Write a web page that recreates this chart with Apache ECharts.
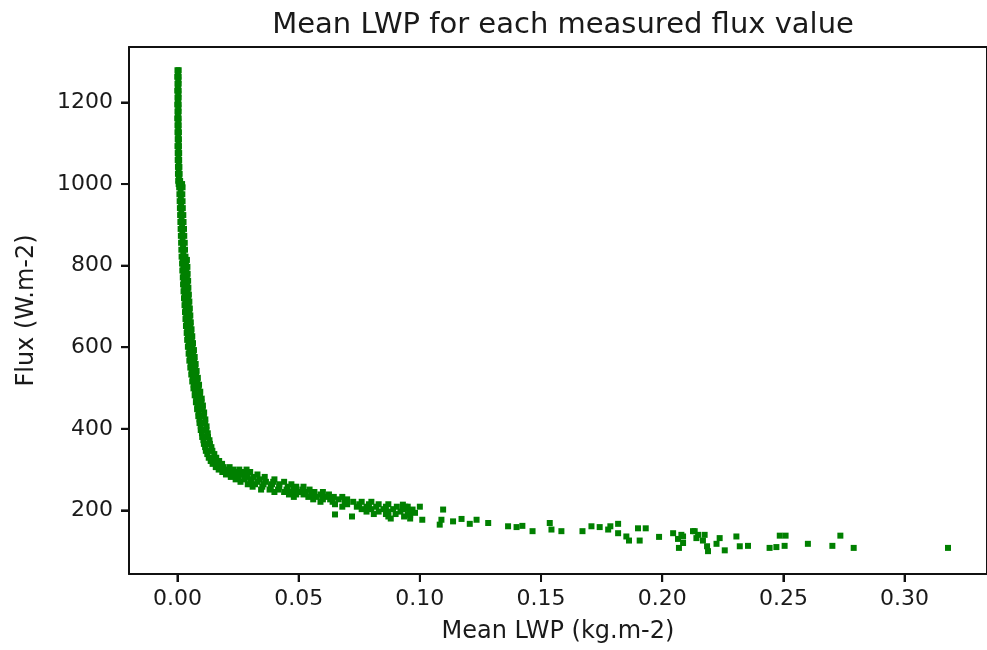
<!DOCTYPE html>
<html>
<head>
<meta charset="utf-8">
<script src="https://cdn.jsdelivr.net/npm/echarts@6/dist/echarts.min.js"></script>
<style>
html,body{margin:0;padding:0;background:#fff;}
#chart{width:987px;height:650px;}
</style>
</head>
<body>
<div id="chart"></div>
<script>
const chartTitle = 'Mean LWP for each measured flux value';
const xAxisName = 'Mean LWP (kg.m-2)';
const yAxisName = 'Flux (W.m-2)';
const xTicks = [0.00, 0.05, 0.10, 0.15, 0.20, 0.25, 0.30];
const yTicks = [200, 400, 600, 800, 1000, 1200];

// steep part: [flux, lwp, lwp, ...]
const steepRows = [
  [1279,0.0000,0.0005],[1271,0.0002],[1263,-0.0001,0.0005],[1255,0.0003],
  [1246,0.0000,0.0005],[1238,0.0002],[1229,-0.0001,0.0005],[1221,0.0003],
  [1212,0.0000,0.0005],[1204,0.0002],[1195,-0.0001,0.0005],[1187,0.0003],
  [1178,0.0000,0.0005],[1170,0.0002],[1161,-0.0001,0.0005],[1153,0.0003],
  [1144,0.0000,0.0005],[1136,0.0003],[1127,0.0000,0.0006],[1119,0.0003],
  [1110,0.0001,0.0006],[1102,0.0004],[1093,0.0000,0.0006],[1085,0.0004],
  [1076,0.0001,0.0007],[1068,0.0004],[1059,0.0001,0.0007],[1051,0.0005],
  [1042,0.0002,0.0008],[1034,0.0005],[1025,0.0002,0.0009],[1017,0.0006],
  [1008,0.0003,0.0011],[1000,0.0005,0.0019],[992,0.0007,0.0021],[984,0.0013],
  [975,0.0008,0.0020],[967,0.0014],[958,0.0009,0.0021],[950,0.0015],
  [941,0.0010,0.0022],[933,0.0016],[924,0.0011,0.0024],[916,0.0017],
  [907,0.0012,0.0025],[899,0.0019],[890,0.0013,0.0027],[882,0.0020],
  [873,0.0014,0.0028],[865,0.0021],[856,0.0015,0.0030],[848,0.0023],
  [839,0.0016,0.0031],[831,0.0024],[822,0.0017,0.0033,0.0025],[814,0.0022,0.0039],
  [805,0.0019,0.0035,0.0027],[797,0.0024,0.0041],[788,0.0020,0.0037,0.0029],[780,0.0025,0.0042],
  [771,0.0022,0.0039,0.0031],[763,0.0027,0.0044],[754,0.0023,0.0040,0.0032],[746,0.0028,0.0045],
  [737,0.0025,0.0042,0.0034],[729,0.0030,0.0047],[720,0.0027,0.0044,0.0036],[712,0.0032,0.0049],
  [703,0.0029,0.0046,0.0038],[695,0.0034,0.0051],[686,0.0031,0.0048,0.0040],[678,0.0036,0.0053],
  [669,0.0033,0.0050,0.0042],[661,0.0038,0.0055],[652,0.0035,0.0053,0.0044],[644,0.0040,0.0058],
  [635,0.0038,0.0056,0.0047],[627,0.0043,0.0061],[618,0.0040,0.0059,0.0050],[610,0.0046,0.0064],
  [601,0.0043,0.0062,0.0053],[593,0.0049,0.0068],[584,0.0046,0.0065,0.0056],[576,0.0052,0.0071],
  [567,0.0049,0.0069,0.0059],[559,0.0055,0.0075],[550,0.0053,0.0073,0.0063],[542,0.0059,0.0079],
  [533,0.0057,0.0077,0.0067],[525,0.0063,0.0084],[516,0.0061,0.0082,0.0071],[508,0.0067,0.0089],
  [499,0.0066,0.0087,0.0076],[491,0.0072,0.0094],[482,0.0071,0.0093,0.0082],[474,0.0077,0.0100],
  [465,0.0076,0.0099,0.0087],[457,0.0082,0.0105],[448,0.0081,0.0104,0.0092],[440,0.0087,0.0110],
  [431,0.0086,0.0109,0.0097],[423,0.0091,0.0115],[414,0.0091,0.0114,0.0102],[406,0.0096,0.0120],
  [397,0.0096,0.0119,0.0107],[389,0.0101,0.0125],[380,0.0102,0.0126,0.0114],[372,0.0107,0.0132],
  [363,0.0109,0.0134,0.0121],[355,0.0114,0.0140],[346,0.0117,0.0144,0.0130],[338,0.0123,0.0152],
  [329,0.0129,0.0160,0.0144],[321,0.0137,0.0172,0.0154],[314,0.0145,0.0184,0.0163]
];

// bend part: [flux, lwp, lwp, ...]
const bendRows = [
  [306,0.0158,0.0174,0.0190,0.0215],[300,0.0170,0.0200,0.0230,0.0255,0.0285],
  [294,0.0185,0.0215,0.0245,0.0270,0.0300],[288,0.0200,0.0235,0.0262,0.0290,0.0330],
  [282,0.0220,0.0250,0.0285,0.0315,0.0360],[276,0.0240,0.0275,0.0305,0.0340,0.0400],
  [270,0.0260,0.0300,0.0330,0.0365,0.0395,0.0440],[264,0.0290,0.0320,0.0355,0.0390,0.0420,0.0470],
  [258,0.0310,0.0350,0.0385,0.0420,0.0455,0.0490,0.0520],
  [251,0.0345,0.0380,0.0415,0.0450,0.0480,0.0515,0.0545],
  [245,0.0400,0.0440,0.0470,0.0500,0.0530,0.0565,0.0600],
  [239,0.0460,0.0490,0.0520,0.0555,0.0590,0.0625],
  [233,0.0480,0.0540,0.0575,0.0610,0.0645,0.0680],
  [227,0.0560,0.0600,0.0630,0.0665,0.0700],
  [221,0.0590,0.0640,0.0690,0.0725,0.0760,0.0800],
  [215,0.0650,0.0700,0.0750,0.0790,0.0830,0.0870],
  [209,0.0680,0.0740,0.0780,0.0820,0.0860,0.0905,0.0940],
  [203,0.0760,0.0800,0.0850,0.0890,0.0930],
  [197,0.0780,0.0830,0.0870,0.0920,0.0960],
  [191,0.0810,0.0860,0.0900,0.0950],
  [190,0.0650],[185,0.0720,0.0870,0.0935],[180,0.0880,0.0960]
];

// sparse tail: [lwp, flux]
const tailPoints = [
  [0.0930,214],[0.0947,205],[0.0950,209],[0.0970,202],[0.0980,194],[0.1000,209],
  [0.1010,177],[0.0960,188],[0.1096,202],[0.1089,177],[0.1082,165],[0.1137,173],
  [0.1172,179],[0.1206,167],[0.1234,177],[0.1282,169],[0.1364,161],[0.1399,159],
  [0.1423,162],[0.1465,149],[0.1536,169],[0.1543,153],[0.1584,149],[0.1671,149],
  [0.1708,161],[0.1742,159],[0.1777,153],[0.1786,161],[0.1818,167],[0.1818,144],
  [0.1852,136],[0.1863,126],[0.1900,156],[0.1932,156],[0.1907,126],[0.1987,135],
  [0.2045,144],[0.2065,130],[0.2069,108],[0.2086,136],[0.2134,149],[0.2141,132],
  [0.2079,140],[0.2086,120],[0.2127,149],[0.2148,140],[0.2175,140],[0.2168,126],
  [0.2189,100],[0.2185,112],[0.2237,132],[0.2224,118],[0.2258,102],[0.2306,136],
  [0.2320,112],[0.2354,113],[0.2443,108],[0.2471,110],[0.2485,138],[0.2509,138],
  [0.2505,113],[0.2601,118],[0.2702,113],[0.2735,138],[0.2790,108],[0.3179,108]
];

const points = [];
[steepRows, bendRows].forEach(rows => rows.forEach(r => {
  for (let i = 1; i < r.length; i++) points.push([r[i], r[0]]);
}));
tailPoints.forEach(p => points.push(p));

const FONT = 'DejaVu Sans';
const TXT = '#1a1a1a';
const LINE = '#111';
const TICK_LEN = 8;
const X_MIN = -0.02, X_MAX = 0.334, Y_MIN = 44, Y_MAX = 1336;

const frameAxis = (pos, min, max) => ({
  type: 'value', position: pos, min: min, max: max,
  axisLine: {show: true, onZero: false, lineStyle: {color: LINE, width: 2}},
  axisTick: {show: false}, axisLabel: {show: false}, splitLine: {show: false}
});

// outward tick marks placed through the axis scales
const tickSeries = (vals, horizontal) => ({
  type: 'custom', silent: true, clip: false, z: 5,
  xAxisIndex: 0, yAxisIndex: 0,
  data: vals.map(v => horizontal ? [v, Y_MIN] : [X_MIN, v]),
  renderItem: (params, api) => {
    const p = api.coord([api.value(0), api.value(1)]);
    const shape = horizontal
      ? {x1: p[0], y1: p[1], x2: p[0], y2: p[1] + TICK_LEN}
      : {x1: p[0] - TICK_LEN, y1: p[1], x2: p[0], y2: p[1]};
    return {type: 'line', shape: shape, style: {stroke: LINE, lineWidth: 2}};
  }
});

const chart = echarts.init(document.getElementById('chart'));
chart.setOption({
  animation: false,
  title: {
    text: chartTitle,
    left: 558, top: 6, textAlign: 'center',
    textStyle: {fontFamily: FONT, fontSize: 29, fontWeight: 'normal', color: TXT}
  },
  grid: {left: 129, top: 47, right: -1, bottom: 76, containLabel: false},
  xAxis: [{
    type: 'value', position: 'bottom', min: X_MIN, max: X_MAX,
    name: xAxisName, nameLocation: 'middle', nameGap: 46,
    nameTextStyle: {fontFamily: FONT, fontSize: 24, color: TXT},
    axisLine: {show: true, onZero: false, lineStyle: {color: LINE, width: 2}},
    splitLine: {show: false},
    axisTick: {show: true, length: TICK_LEN, customValues: xTicks, lineStyle: {color: LINE, width: 2}},
    axisLabel: {customValues: xTicks, margin: 14, fontFamily: FONT, fontSize: 22, color: TXT,
      formatter: v => v.toFixed(2)}
  }, frameAxis('top', X_MIN, X_MAX)],
  yAxis: [{
    type: 'value', position: 'left', min: Y_MIN, max: Y_MAX,
    name: yAxisName, nameLocation: 'middle', nameGap: 90, nameRotate: 90,
    nameTextStyle: {fontFamily: FONT, fontSize: 24, color: TXT},
    axisLine: {show: true, onZero: false, lineStyle: {color: LINE, width: 2}},
    splitLine: {show: false},
    axisTick: {show: true, length: TICK_LEN, customValues: yTicks, lineStyle: {color: LINE, width: 2}},
    axisLabel: {customValues: yTicks, margin: 16, fontFamily: FONT, fontSize: 22, color: TXT,
      formatter: v => String(v)}
  }, frameAxis('right', Y_MIN, Y_MAX)],
  series: [{
    type: 'scatter',
    xAxisIndex: 0, yAxisIndex: 0,
    data: points,
    symbol: 'rect',
    symbolSize: 6,
    itemStyle: {color: '#008000', opacity: 1}
  }, tickSeries(xTicks, true), tickSeries(yTicks, false)]
});
</script>
</body>
</html>
